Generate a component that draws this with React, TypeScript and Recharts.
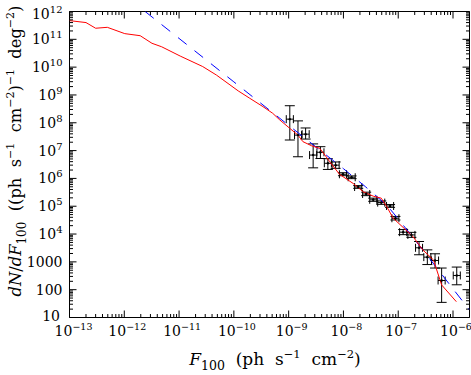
import React from 'react';
import { ComposedChart, Scatter, XAxis, YAxis, ErrorBar } from 'recharts';

// Red solid model curve
const redX = [1.0e-13, 2.0e-13, 3.0e-13, 4.9e-13, 1.02e-12, 1.95e-12, 3.2e-12, 4.8e-12, 1.05e-11, 2.7e-11, 4.8e-11, 8.5e-11, 1.2e-10, 1.95e-10, 3.4e-10, 5.1e-10, 6.9e-10, 1.05e-9, 1.48e-9, 1.82e-9, 2.6e-9, 3.7e-9, 4.6e-9, 5.6e-9, 8.5e-9, 1.5e-8, 2.3e-8, 3.5e-8, 4.9e-8, 6.2e-8, 8.1e-8, 1.86e-7, 2.8e-7, 4.4e-7, 6.2e-7, 1.15e-6];
const redY = [4.7e11, 4.0e11, 2.5e11, 2.7e11, 1.6e11, 1.35e11, 7.2e10, 5.4e10, 2.5e10, 1.05e10, 5.2e9, 2.3e9, 1.4e9, 7.6e8, 3.8e8, 2.2e8, 1.26e8, 6.3e7, 3.6e7, 2.1e7, 1.5e7, 1.2e7, 6.9e6, 4.0e6, 1.4e6, 6.6e5, 3.3e5, 2.3e5, 1.95e5, 9.5e4, 3.7e4, 8.1e3, 2.7e3, 1.17e3, 148, 37];

// Blue dashed model curve
const blueX = [2.4e-12, 1e-10, 1e-9, 1e-8, 2.5e-8, 4.0e-8, 6.3e-8, 1e-7, 3.16e-7, 1e-6, 2e-6];
const blueY = [1e12, 2.95e9, 8.1e7, 2.24e6, 5.1e5, 2.3e5, 1.05e5, 3.5e4, 2.0e3, 107, 18.6];

// Measured points
const obsX = [1.05e-9, 1.48e-9, 2.04e-9, 2.8e-9, 3.8e-9, 5.2e-9, 7.2e-9, 9.8e-9, 1.41e-8, 1.86e-8, 2.6e-8, 3.5e-8, 4.9e-8, 7.1e-8, 8.9e-8, 1.23e-7, 1.74e-7, 2.4e-7, 3.4e-7, 4.7e-7, 6.2e-7, 1.17e-6];
const obsXLo = [0.905e-9, 1.28e-9, 1.76e-9, 2.41e-9, 3.28e-9, 4.48e-9, 6.21e-9, 8.45e-9, 1.22e-8, 1.6e-8, 2.24e-8, 3.02e-8, 4.22e-8, 6.12e-8, 7.67e-8, 1.06e-7, 1.5e-7, 2.07e-7, 2.93e-7, 4.05e-7, 5.34e-7, 1.01e-6];
const obsXHi = [1.22e-9, 1.72e-9, 2.37e-9, 3.25e-9, 4.41e-9, 6.03e-9, 8.35e-9, 1.14e-8, 1.64e-8, 2.16e-8, 3.02e-8, 4.06e-8, 5.68e-8, 8.24e-8, 1.03e-7, 1.43e-7, 2.02e-7, 2.78e-7, 3.94e-7, 5.45e-7, 7.19e-7, 1.36e-6];
const obsY = [1.35e8, 3.6e7, 3.9e7, 6.9e6, 8.7e6, 3.5e6, 3.0e6, 1.41e6, 1.1e6, 4.9e5, 2.75e5, 1.7e5, 1.35e5, 1.02e5, 3.7e4, 1.17e4, 9.3e3, 3.2e3, 1.48e3, 1.12e3, 214, 324];
const obsYLo = [2.4e7, 6.0e6, 2.6e7, 2.4e6, 5.2e6, 2.1e6, 2.3e6, 1.25e6, 9.8e5, 4.4e5, 2.4e5, 1.5e5, 1.17e5, 9.1e4, 3.2e4, 9.5e3, 7.6e3, 1.8e3, 800, 600, 35, 150];
const obsYHi = [4.1e8, 1.17e8, 6.5e7, 1.74e7, 1.38e7, 5.1e6, 3.9e6, 1.6e6, 1.23e6, 5.5e5, 3.2e5, 1.95e5, 1.55e5, 1.15e5, 4.3e4, 1.45e4, 1.15e4, 5.4e3, 2.7e3, 1.95e3, 600, 650];

// Axis tick exponents
const xDecades = [-13, -12, -11, -10, -9, -8, -7, -6];
const yDecades = [1, 2, 3, 4, 5, 6, 7, 8, 9, 10, 11, 12];
const minorMultipliers = [2, 3, 4, 5, 6, 7, 8, 9];
const yPlainLabels: Record<number, string> = { 1: '10', 2: '100', 3: '1000' };

const X_DOMAIN: [number, number] = [1e-13, 2e-6];
const Y_DOMAIN: [number, number] = [10, 1e12];

const buildTicks = (decades: number[], lo: number, hi: number) => {
  const t: number[] = [];
  decades.forEach((d) => {
    const base = Math.pow(10, d);
    if (base >= lo * 0.9999 && base <= hi * 1.0001) t.push(base);
    minorMultipliers.forEach((m) => {
      const v = m * base;
      if (v > lo * 1.0001 && v < hi * 0.9999) t.push(v);
    });
  });
  return t.sort((a, b) => a - b);
};

const xTicks = buildTicks(xDecades, X_DOMAIN[0], X_DOMAIN[1]);
const yTicks = buildTicks(yDecades, Y_DOMAIN[0], Y_DOMAIN[1]);

const FONT = '"DejaVu Serif", serif';
const MAJ = 7;
const MIN = 3.5;

const isMajor = (v: number) => {
  const l = Math.log10(v);
  return Math.abs(l - Math.round(l)) < 1e-6;
};

const BottomTick = (props: any) => {
  const { x, y, payload } = props;
  const v = payload.value;
  const major = isMajor(v);
  const e = Math.round(Math.log10(v));
  return (
    <g>
      <line x1={x} x2={x} y1={y} y2={y - (major ? MAJ : MIN)} stroke="#000" strokeWidth={1} />
      {major && (
        <text x={x + (e === -13 ? 4 : 3)} y={y + 18} textAnchor="middle" fontFamily={FONT} fontSize={14} fill="#000">
          <tspan>10</tspan>
          <tspan dy={-5.5} fontSize={9.5}>{'\u2212' + Math.abs(e)}</tspan>
        </text>
      )}
    </g>
  );
};

const TopTick = (props: any) => {
  const { x, y, payload } = props;
  const major = isMajor(payload.value);
  return <line x1={x} x2={x} y1={y} y2={y + (major ? MAJ : MIN)} stroke="#000" strokeWidth={1} />;
};

const LeftTick = (props: any) => {
  const { x, y, payload } = props;
  const v = payload.value;
  const major = isMajor(v);
  const e = Math.round(Math.log10(v));
  const dyBase = e === 12 ? 7 : e === 1 ? 3 : 5;
  return (
    <g>
      <line x1={x} x2={x + (major ? MAJ : MIN)} y1={y} y2={y} stroke="#000" strokeWidth={1} />
      {major && (
        <text x={x - (e === 1 ? 9.5 : 7)} y={y + dyBase} textAnchor="end" fontFamily={FONT} fontSize={14} fill="#000">
          {yPlainLabels[e] ? (
            <tspan>{yPlainLabels[e]}</tspan>
          ) : (
            <>
              <tspan>10</tspan>
              <tspan dy={-6} fontSize={10}>{String(e)}</tspan>
            </>
          )}
        </text>
      )}
    </g>
  );
};

const RightTick = (props: any) => {
  const { x, y, payload } = props;
  const major = isMajor(payload.value);
  return <line x1={x} x2={x - (major ? MAJ : MIN)} y1={y} y2={y} stroke="#000" strokeWidth={1} />;
};

const redData = redX.map((x, i) => ({ x, y: redY[i] }));
const blueData = blueX.map((x, i) => ({ x, y: blueY[i] }));
const obsData = obsX.map((x, i) => ({
  x,
  y: obsY[i],
  ex: [x - obsXLo[i], obsXHi[i] - x],
  ey: [obsY[i] - obsYLo[i], obsYHi[i] - obsY[i]],
}));

const NoShape = () => <g />;
const Dot = (p: any) => <circle cx={p.cx} cy={p.cy} r={1.2} fill="#000" />;

export default function App() {
  return (
    <div style={{ position: 'absolute', left: 0, top: 0, width: 471, height: 375, background: '#fff' }}>
      <ComposedChart width={471} height={375} margin={{ top: 10.5, right: 0.5, bottom: 56.5, left: 68.5 }}>
        <XAxis
          xAxisId="b"
          dataKey="x"
          type="number"
          scale="log"
          domain={X_DOMAIN}
          allowDataOverflow
          ticks={xTicks}
          interval={0}
          tickSize={0}
          tickMargin={0}
          height={1}
          tick={BottomTick}
          axisLine={{ stroke: '#000' }}
          tickLine={false}
        />
        <XAxis
          xAxisId="t"
          orientation="top"
          dataKey="x"
          type="number"
          scale="log"
          domain={X_DOMAIN}
          allowDataOverflow
          ticks={xTicks}
          interval={0}
          tickSize={0}
          tickMargin={0}
          height={1}
          tick={TopTick}
          axisLine={{ stroke: '#000' }}
          tickLine={false}
        />
        <YAxis
          yAxisId="l"
          dataKey="y"
          type="number"
          scale="log"
          domain={Y_DOMAIN}
          allowDataOverflow
          ticks={yTicks}
          interval={0}
          tickSize={0}
          tickMargin={0}
          width={1}
          tick={LeftTick}
          axisLine={{ stroke: '#000' }}
          tickLine={false}
        />
        <YAxis
          yAxisId="r"
          orientation="right"
          dataKey="y"
          type="number"
          scale="log"
          domain={Y_DOMAIN}
          allowDataOverflow
          ticks={yTicks}
          interval={0}
          tickSize={0}
          tickMargin={0}
          width={1}
          tick={RightTick}
          axisLine={{ stroke: '#000' }}
          tickLine={false}
        />
        <Scatter
          xAxisId="b"
          yAxisId="l"
          data={blueData}
          fill="none"
          line={{ stroke: '#0000ff', strokeWidth: 1, strokeDasharray: '11 10' }}
          shape={NoShape}
          isAnimationActive={false}
        />
        <Scatter
          xAxisId="b"
          yAxisId="l"
          data={redData}
          fill="none"
          line={{ stroke: '#ff0000', strokeWidth: 1 }}
          shape={NoShape}
          isAnimationActive={false}
        />
        <Scatter xAxisId="b" yAxisId="l" data={obsData} fill="#000" shape={Dot} isAnimationActive={false}>
          <ErrorBar dataKey="ey" direction="y" width={5} stroke="#000" strokeWidth={1} isAnimationActive={false} />
          <ErrorBar dataKey="ex" direction="x" width={4} stroke="#000" strokeWidth={1} isAnimationActive={false} />
        </Scatter>
        <text x={275} y={365} textAnchor="middle" fontFamily={FONT} fontSize={17} fill="#000">
          <tspan fontStyle="italic">F</tspan>
          <tspan dy={5} fontSize={12.5}>100</tspan>
          <tspan dy={-5}>{'\u00a0\u00a0(ph\u00a0\u00a0s'}</tspan>
          <tspan dy={-7} fontSize={11.5}>{'\u22121'}</tspan>
          <tspan dy={7}>{'\u00a0\u00a0cm'}</tspan>
          <tspan dy={-7} fontSize={11.5}>{'\u22122'}</tspan>
          <tspan dy={7}>)</tspan>
        </text>
        <text transform="rotate(-90)" x={-151} y={21} textAnchor="middle" fontFamily={FONT} fontSize={16.3} fill="#000">
          <tspan fontStyle="italic">dN</tspan>
          <tspan>/</tspan>
          <tspan fontStyle="italic">dF</tspan>
          <tspan dy={5} fontSize={12}>100</tspan>
          <tspan dy={-5}>{'\u00a0\u00a0((ph\u00a0\u00a0s'}</tspan>
          <tspan dy={-7} fontSize={11}>{'\u22121'}</tspan>
          <tspan dy={7}>{'\u00a0\u00a0cm'}</tspan>
          <tspan dy={-7} fontSize={11}>{'\u22122'}</tspan>
          <tspan dy={7}>)</tspan>
          <tspan dy={-7} fontSize={11}>{'\u22121'}</tspan>
          <tspan dy={7}>{'\u00a0\u00a0deg'}</tspan>
          <tspan dy={-7} fontSize={11}>{'\u22122'}</tspan>
          <tspan dy={7}>)</tspan>
        </text>
      </ComposedChart>
    </div>
  );
}
